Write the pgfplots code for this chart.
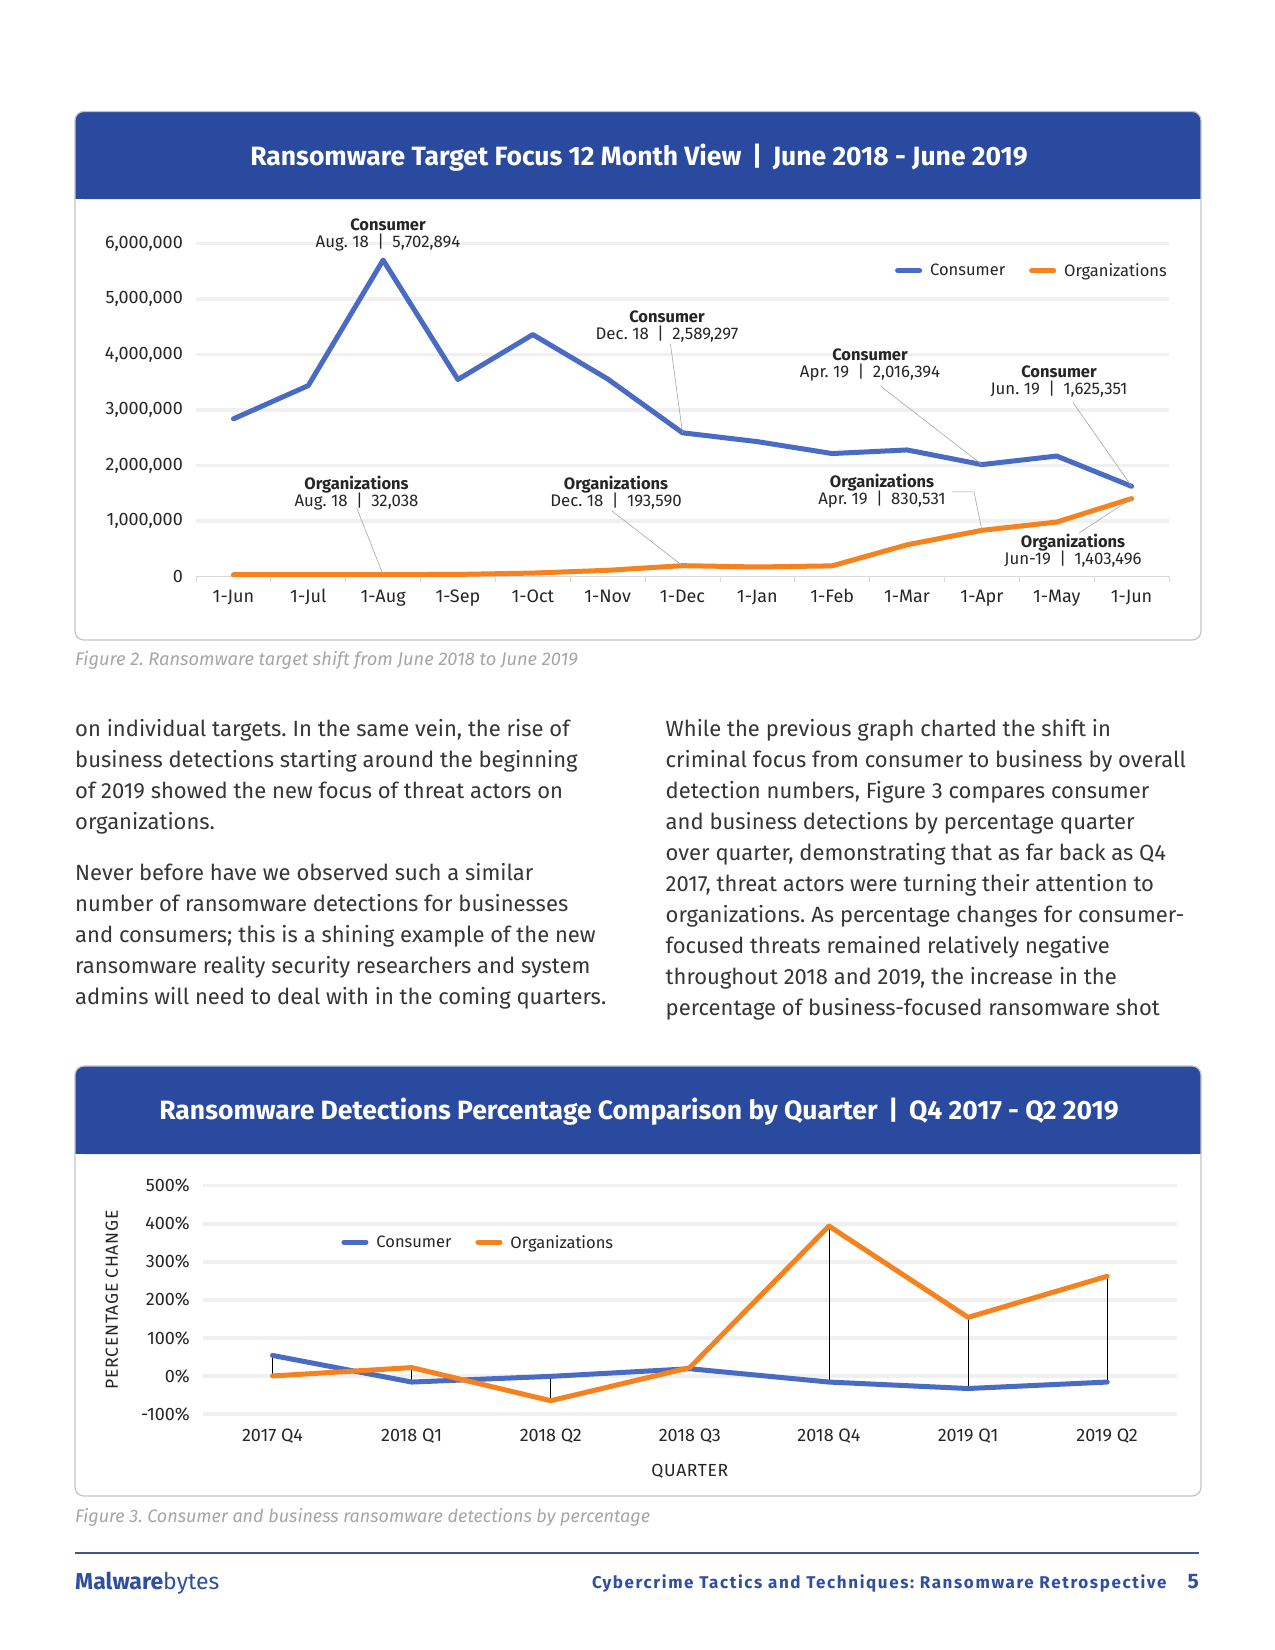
\documentclass[border=0pt]{standalone}
\usepackage{pgfplots}
\pgfplotsset{compat=1.18}
\usepackage{fontspec}
\setmainfont{Fira Sans}
\frenchspacing

\definecolor{hdr}{HTML}{2A4A9F}
\definecolor{cons}{HTML}{4A6BC4}
\definecolor{orgs}{HTML}{F5821F}
\definecolor{gridc}{HTML}{F0F0F0}
\definecolor{boxc}{HTML}{C4C4C4}
\definecolor{bodyc}{HTML}{363636}
\definecolor{capc}{HTML}{A6A6A6}
\definecolor{ftc}{HTML}{2F4FA0}
\definecolor{rulec}{HTML}{3E5A86}
\definecolor{lblc}{HTML}{262626}

\newcommand\bodyfont{\fontsize{22}{31}\selectfont}
\newcommand\tickfont{\fontsize{18}{20}\selectfont}
\newcommand\legfont{\fontsize{16.5}{18}\selectfont}
\newcommand\lblfont{\fontsize{16.5}{18}\selectfont}
\newcommand\titlefont{\fontsize{26.5}{28}\selectfont\bfseries}
% one line of body text: x, baseline, text
\newcommand\bline[3]{\node[anchor=base west,inner sep=0pt,text=bodyc,font=\bodyfont] at (#1pt,-#2pt) {#3};}
% data label: centre x, first baseline, bold name, second line
\newcommand\ann[4]{%
  \node[anchor=base,inner sep=0pt,text=lblc,font=\lblfont\bfseries] at (#1pt,-#2pt) {#3};
  \node[anchor=base,inner sep=0pt,text=lblc,font=\fontsize{16.8}{18}\selectfont] at (#1pt,{-#2pt-17pt}) {#4};}
\newcommand\sep{\enspace|\enspace}

\pgfplotsset{
  linestyle/.style={line width=5pt, line join=round, line cap=round},
  every axis/.append style={
    scale only axis,
    axis line style={draw=none},
    tick label style={font=\tickfont, text=lblc},
    scaled y ticks=false,
    ymajorgrids,
    grid style={draw=gridc, line width=3.5pt},
    legend style={draw=none, fill=none, inner sep=0pt, font=\legfont, text=lblc,
      legend columns=2,
      /tikz/every odd column/.append style={column sep=6pt},
      /tikz/every even column/.append style={column sep=22pt}},
    legend image code/.code={\draw[#1] (0pt,0pt) -- (22pt,0pt);},
  },
}

\begin{document}
\begin{tikzpicture}
\path[use as bounding box, fill=white] (0,0) rectangle (1275pt,-1650pt);

% ---------- chart 1 frame ----------
\fill[hdr, rounded corners=9pt] (75pt,-111.4pt) rectangle (1201pt,-199pt);
\fill[hdr] (75pt,-170pt) rectangle (1201pt,-199pt);
\draw[boxc, line width=1.2pt, rounded corners=9pt] (75pt,-111.4pt) rectangle (1201pt,-640pt);
\node[anchor=base, text=white, font=\titlefont] at (639pt,-165pt)
  {Ransomware Target Focus 12 Month View \,|\, June 2018 - June 2019};

\begin{axis}[
  at={(196pt,-576.4pt)}, anchor=south west,
  width=973pt, height=332.8pt,
  xmin=-0.5, xmax=12.5, ymin=0, ymax=6000000,
  xtick={0,...,12},
  xticklabels={1-Jun,1-Jul,1-Aug,1-Sep,1-Oct,1-Nov,1-Dec,1-Jan,1-Feb,1-Mar,1-Apr,1-May,1-Jun},
  minor xtick={-0.5,0.5,...,12.5},
  xtick pos=bottom, ytick pos=left, tick align=outside,
  major tick length=0pt, minor tick length=6pt,
  minor tick style={draw=gray!30, line width=0.8pt},
  xticklabel style={anchor=base, yshift=-26pt},
  ytick={1000000,2000000,3000000,4000000,5000000,6000000},
  yticklabels={{1,000,000},{2,000,000},{3,000,000},{4,000,000},{5,000,000},{6,000,000}},
  yticklabel style={anchor=east, inner sep=0pt, xshift=-13pt},
  extra y ticks={0}, extra y tick labels={0},
  extra y tick style={major grid style={draw=gray!30, line width=0.8pt}},
  legend style={at={(1,0.919)}, anchor=east},
]
\addplot[cons, linestyle] coordinates {
  (0,2840000)(1,3440000)(2,5702894)(3,3550000)(4,4360000)(5,3560000)(6,2589297)
  (7,2430000)(8,2215000)(9,2280000)(10,2016394)(11,2170000)(12,1625351)};
\addlegendentry{Consumer}
\addplot[orgs, linestyle] coordinates {
  (0,30000)(1,31000)(2,32038)(3,36000)(4,60000)(5,110000)(6,193590)
  (7,170000)(8,190000)(9,570000)(10,830531)(11,980000)(12,1403496)};
\addlegendentry{Organizations}
\coordinate (cdec) at (axis cs:6,2589297);
\coordinate (capr) at (axis cs:10,2016394);
\coordinate (cjun) at (axis cs:12,1625351);
\coordinate (oaug) at (axis cs:2,32038);
\coordinate (odec) at (axis cs:6,193590);
\coordinate (oapr) at (axis cs:10,830531);
\coordinate (ojun) at (axis cs:12,1403496);
\end{axis}

\ann{388}{230.4}{Consumer}{Aug. 18\sep5,702,894}
\ann{667}{322}{Consumer}{Dec. 18\sep2,589,297}
\ann{870}{360}{Consumer}{Apr. 19\sep2,016,394}
\ann{1059}{377.5}{Consumer}{Jun. 19\sep1,625,351}
\ann{356.5}{489}{Organizations}{Aug. 18\sep32,038}
\ann{616}{489}{Organizations}{Dec. 18\sep193,590}
\ann{882}{487}{Organizations}{Apr. 19\sep830,531}
\ann{1073}{547}{Organizations}{Jun-19\sep1,403,496}
\begin{scope}[draw=gray!70, line width=0.6pt]
\draw (670.4pt,-343.6pt) -- (cdec);
\draw (880.9pt,-386.4pt) -- (capr);
\draw (1073pt,-402.5pt) -- (cjun);
\draw (356.7pt,-508pt) -- (oaug);
\draw (612pt,-511pt) -- (odec);
\draw (951.7pt,-491.8pt) -- (974pt,-491.8pt) -- (oapr);
\draw (1079pt,-533pt) -- (ojun);
\end{scope}

\node[anchor=base west, inner sep=0pt, text=capc, font=\fontsize{18.3}{20}\selectfont\itshape]
  at (75pt,-665pt) {Figure 2. Ransomware target shift from June 2018 to June 2019};

% ---------- body text ----------
\bline{75}{736}{on individual targets. In the same vein, the rise of}
\bline{75}{767}{business detections starting around the beginning}
\bline{75}{798}{of 2019 showed the new focus of threat actors on}
\bline{75}{829}{organizations.}
\bline{75}{880}{Never before have we observed such a similar}
\bline{75}{911}{number of ransomware detections for businesses}
\bline{75}{942}{and consumers; this is a shining example of the new}
\bline{75}{973}{ransomware reality security researchers and system}
\bline{75}{1004}{admins will need to deal with in the coming quarters.}
\bline{665.5}{736}{While the previous graph charted the shift in}
\bline{665.5}{767}{criminal focus from consumer to business by overall}
\bline{665.5}{798}{detection numbers, Figure 3 compares consumer}
\bline{665.5}{829}{and business detections by percentage quarter}
\bline{665.5}{860}{over quarter, demonstrating that as far back as Q4}
\bline{665.5}{891}{2017, threat actors were turning their attention to}
\bline{665.5}{922}{organizations. As percentage changes for consumer-}
\bline{665.5}{953}{focused threats remained relatively negative}
\bline{665.5}{984}{throughout 2018 and 2019, the increase in the}
\bline{665.5}{1015}{percentage of business-focused ransomware shot}

% ---------- chart 2 frame ----------
\fill[hdr, rounded corners=9pt] (75pt,-1066pt) rectangle (1201pt,-1154pt);
\fill[hdr] (75pt,-1125pt) rectangle (1201pt,-1154pt);
\draw[boxc, line width=1.2pt, rounded corners=9pt] (75pt,-1066pt) rectangle (1201pt,-1496pt);
\node[anchor=base, text=white, font=\titlefont] at (639pt,-1119pt)
  {Ransomware Detections Percentage Comparison by Quarter \,|\, Q4 2017 - Q2 2019};

\begin{axis}[
  at={(203pt,-1414pt)}, anchor=south west,
  width=973.7pt, height=228.3pt,
  xmin=-0.5, xmax=6.5, ymin=-100, ymax=500,
  xtick={0,...,6},
  xticklabels={2017 Q4,2018 Q1,2018 Q2,2018 Q3,2018 Q4,2019 Q1,2019 Q2},
  major tick length=0pt,
  xticklabel style={anchor=base, yshift=-27.7pt},
  ytick={-100,0,100,200,300,400,500},
  yticklabels={-100\%,0\%,100\%,200\%,300\%,400\%,500\%},
  yticklabel style={anchor=east, inner sep=0pt, xshift=-13pt},
  xlabel={QUARTER}, ylabel={PERCENTAGE CHANGE},
  label style={font=\fontsize{17.5}{19}\selectfont\addfontfeatures{LetterSpace=4}, text=lblc},
  xlabel style={at={(axis description cs:0.5,-0.2746)}, anchor=base},
  ylabel style={at={(axis description cs:-0.0935,0.5)}, anchor=center},
  legend style={at={(0.142,0.752)}, anchor=west},
]
\addplot[black, line width=0.6pt, unbounded coords=jump, forget plot] coordinates {
  (0,54)(0,0)(0.5,nan)(1,22)(1,-16)(1.5,nan)(2,-1)(2,-65)(2.5,nan)(3,19)(3,22)(3.5,nan)
  (4,394)(4,-16)(4.5,nan)(5,154)(5,-33)(5.5,nan)(6,262)(6,-16)};
\addplot[cons, linestyle] coordinates {
  (0,54)(1,-16)(2,-1)(3,19)(4,-16)(5,-33)(6,-16)};
\addlegendentry{Consumer}
\addplot[orgs, linestyle] coordinates {
  (0,0)(1,22)(2,-65)(3,22)(4,394)(5,154)(6,262)};
\addlegendentry{Organizations}
\end{axis}

\node[anchor=base west, inner sep=0pt, text=capc, font=\fontsize{18}{20}\selectfont\itshape]
  at (75pt,-1522pt) {Figure 3. Consumer and business ransomware detections by percentage};

% ---------- footer ----------
\draw[rulec, line width=1.5pt] (75pt,-1553pt) -- (1199pt,-1553pt);
\node[anchor=base west, inner sep=0pt, text=ftc, font=\fontsize{23}{26}\selectfont]
  at (75pt,-1589pt) {\textbf{Malware}bytes};
\node[anchor=base east, inner sep=0pt, text=ftc, font=\fontsize{17}{19}\selectfont\bfseries\addfontfeatures{LetterSpace=9.5}]
  at (1166.7pt,-1588pt) {Cybercrime Tactics and Techniques: Ransomware Retrospective};
\node[anchor=base east, inner sep=0pt, text=ftc, font=\fontsize{21}{24}\selectfont\bfseries]
  at (1199pt,-1588pt) {5};
\end{tikzpicture}
\end{document}
